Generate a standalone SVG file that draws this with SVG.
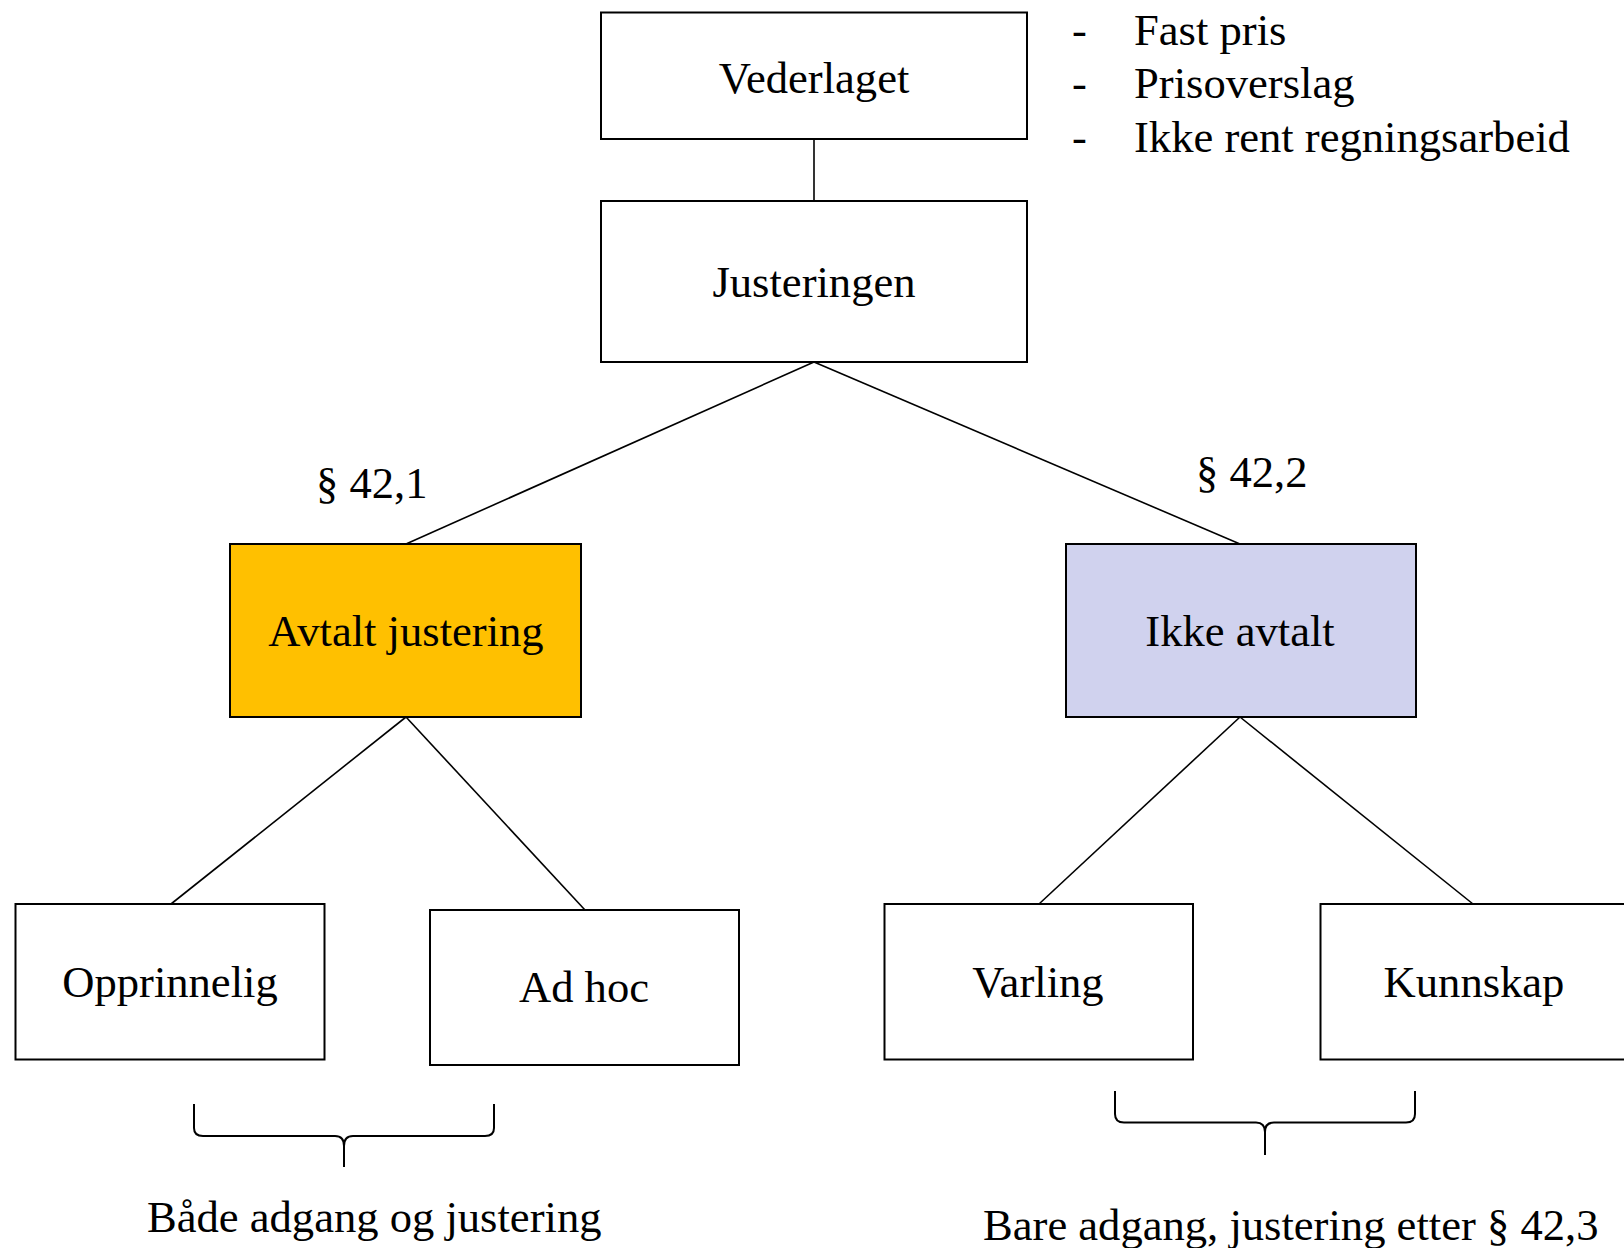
<svg xmlns="http://www.w3.org/2000/svg" width="1624" height="1248" viewBox="0 0 1624 1248">
  <style>
    .box { fill: #ffffff; stroke: #000000; stroke-width: 2; }
    .lbl { font-family: "Liberation Serif", "Times New Roman", serif; font-size: 44.6px; fill: #000000; }
    .mid { text-anchor: middle; }
    .conn { stroke: #000000; stroke-width: 1.6; fill: none; }
    .brace { stroke: #000000; stroke-width: 2; fill: none; }
  </style>
  <rect width="1624" height="1248" fill="#ffffff"/>

  <!-- connectors -->
  <g id="connectors">
    <line class="conn" x1="814" y1="139" x2="814" y2="201"/>
    <line class="conn" x1="814" y1="362" x2="406" y2="544"/>
    <line class="conn" x1="814" y1="362" x2="1240" y2="544"/>
    <line class="conn" x1="406" y1="717" x2="171" y2="904"/>
    <line class="conn" x1="406" y1="717" x2="585" y2="910"/>
    <line class="conn" x1="1240" y1="717" x2="1039" y2="904"/>
    <line class="conn" x1="1240" y1="717" x2="1473" y2="904"/>
  </g>

  <g id="vederlaget">
    <rect class="box" x="601" y="12.5" width="426" height="126.5"/>
    <text class="lbl mid" x="814" y="93">Vederlaget</text>
  </g>

  <g id="justeringen">
    <rect class="box" x="601" y="201" width="426" height="161"/>
    <text class="lbl mid" x="814" y="297">Justeringen</text>
  </g>

  <g id="pris-liste">
    <text class="lbl" x="1072" y="45">-</text>
    <text class="lbl" x="1134" y="45">Fast pris</text>
    <text class="lbl" x="1072" y="98">-</text>
    <text class="lbl" x="1134" y="98">Prisoverslag</text>
    <text class="lbl" x="1072" y="152">-</text>
    <text class="lbl" x="1134" y="152">Ikke rent regningsarbeid</text>
  </g>

  <g id="ref-42-1">
    <text class="lbl" x="316" y="498">§ 42,1</text>
  </g>
  <g id="ref-42-2">
    <text class="lbl" x="1196" y="487">§ 42,2</text>
  </g>

  <g id="avtalt-justering">
    <rect x="230" y="544" width="351" height="173" fill="#FFC000" stroke="#000000" stroke-width="2"/>
    <text class="lbl mid" x="406" y="646">Avtalt justering</text>
  </g>

  <g id="ikke-avtalt">
    <rect x="1066" y="544" width="350" height="173" fill="#D0D2EE" stroke="#000000" stroke-width="2"/>
    <text class="lbl mid" x="1240" y="646">Ikke avtalt</text>
  </g>

  <g id="opprinnelig">
    <rect class="box" x="15.5" y="904" width="309" height="155.5"/>
    <text class="lbl mid" x="170" y="997">Opprinnelig</text>
  </g>

  <g id="ad-hoc">
    <rect class="box" x="430" y="910" width="309" height="155"/>
    <text class="lbl mid" x="584" y="1002">Ad hoc</text>
  </g>

  <g id="varling">
    <rect class="box" x="884.5" y="904" width="308.5" height="155.5"/>
    <text class="lbl mid" x="1038" y="997">Varling</text>
  </g>

  <g id="kunnskap">
    <rect class="box" x="1320.5" y="904" width="309" height="155.5"/>
    <text class="lbl mid" x="1474" y="997">Kunnskap</text>
  </g>

  <!-- grouping braces with their captions -->
  <g id="brace-left">
    <path class="brace" d="M194,1104 V1128 Q194,1136 203,1136 H335 Q344,1136 344,1146 V1167 M344,1146 Q344,1136 353,1136 H485 Q494,1136 494,1128 V1104"/>
    <text class="lbl" x="147" y="1232">Både adgang og justering</text>
  </g>

  <g id="brace-right">
    <path class="brace" d="M1115,1091 V1114 Q1115,1122.5 1124,1122.5 H1256 Q1265,1122.5 1265,1132 V1155 M1265,1132 Q1265,1122.5 1274,1122.5 H1406 Q1415,1122.5 1415,1114 V1091"/>
    <text class="lbl" x="983" y="1240">Bare adgang, justering etter § 42,3</text>
  </g>
</svg>
